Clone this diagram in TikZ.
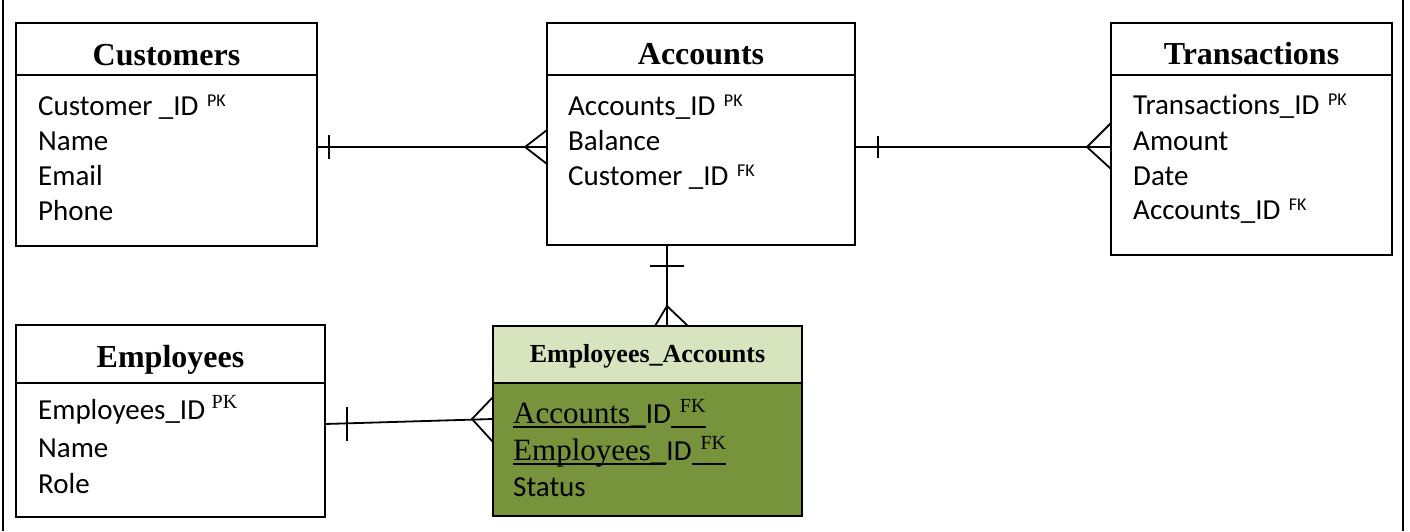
\documentclass[tikz,border=0pt]{standalone}
\usepackage{fontspec}
\setmainfont{Carlito}[Ligatures=NoCommon]
\newfontfamily\tms{Liberation Serif}
\definecolor{eahead}{HTML}{D7E4BD}
\definecolor{eabody}{HTML}{77933C}
\newcommand\myul[1]{\setbox0\hbox{#1}\rlap{\rule[-4.5pt]{\wd0}{1.4pt}}\box0}
\newcommand\supk[1]{\hspace{2pt}\raisebox{9pt}{\fontsize{18}{18}\selectfont #1}}
\newcommand\tsup[1]{\raisebox{11pt}{\tms\fontsize{20}{20}\selectfont #1}}
\begin{document}
\begin{tikzpicture}[x=1pt,y=-1pt,
  box/.style={draw, line width=1.8pt, anchor=north west, inner sep=0, outer sep=0},
  ttl/.style={anchor=base, inner sep=0, font=\tms\bfseries\fontsize{32}{32}\selectfont},
  row/.style={anchor=base west, inner sep=0, font=\fontsize{29}{34}\selectfont},
  conn/.style={line width=1.8pt},
  frame/.style={line width=2pt}
]
\useasboundingbox (0,0) rectangle (1410,531);
\draw[frame] (3,0) -- (3,531);
\draw[frame] (1403,0) -- (1403,531);

% Customers
\node[box, minimum width=301, minimum height=52] (custH) at (16,23) {};
\node[box, minimum width=301, minimum height=171] (cust) at (16,75) {};
\node[ttl] (custT) at (166.5,65) {Customers};
\node[row] (cust1) at (38,115) {Customer \_ID \supk{PK}};
\node[row] (cust2) at (38,150) {Name};
\node[row] (cust3) at (38,185) {Email};
\node[row] (cust4) at (38,220) {Phone};

% Accounts
\node[box, minimum width=308, minimum height=52] (accH) at (547,23) {};
\node[box, minimum width=308, minimum height=170] (acc) at (547,75) {};
\node[ttl] (accT) at (701,64) {Accounts};
\node[row] (acc1) at (568,115) {Accounts\_ID \supk{PK}};
\node[row] (acc2) at (568,150) {Balance};
\node[row] (acc3) at (568,185) {Customer \_ID \supk{FK}};

% Transactions
\node[box, minimum width=281, minimum height=52] (trH) at (1111,23) {};
\node[box, minimum width=281, minimum height=180] (tr) at (1111,75) {};
\node[ttl] (trT) at (1251.5,64) {Transactions};
\node[row] (tr1) at (1133,114) {Transactions\_ID \supk{PK}};
\node[row] (tr2) at (1133,150) {Amount};
\node[row] (tr3) at (1133,185) {Date};
\node[row] (tr4) at (1133,219) {Accounts\_ID \supk{FK}};

% Employees
\node[box, minimum width=309, minimum height=58] (empH) at (16,325) {};
\node[box, minimum width=309, minimum height=134] (emp) at (16,383) {};
\node[ttl] (empT) at (170.5,367) {Employees};
\node[row] (emp1) at (38,419) {Employees\_ID \tsup{PK}};
\node[row] (emp2) at (38,457) {Name};
\node[row] (emp3) at (38,493) {Role};

% Employees_Accounts
\node[box, fill=eahead, minimum width=309, minimum height=57] (eaH) at (493,326) {};
\node[box, fill=eabody, minimum width=309, minimum height=133] (ea) at (493,383) {};
\node[ttl, font=\tms\bfseries\fontsize{26}{26}\selectfont] (eaT) at (647.5,362) {Employees\_Accounts};
\node[row] (ea1) at (513,423) {\myul{\tms\fontsize{31}{31}\selectfont Accounts\_}ID\myul{\hspace{9pt}\tsup{FK}}};
\node[row] (ea2) at (513,460) {\myul{\tms\fontsize{31}{31}\selectfont Employees\_}ID\myul{\hspace{9pt}\tsup{FK}}};
\node[row] (ea3) at (513,496) {Status};

% Customers -- Accounts
\coordinate (ca1) at ([yshift=13.5pt]cust.east);
\coordinate (ca2) at ([yshift=13pt]acc.west);
\draw[conn] (ca1) -- (ca2);
\draw[conn] ([xshift=12pt,yshift=12pt]ca1) -- ([xshift=12pt,yshift=-12pt]ca1);
\draw[conn] ([yshift=17pt]ca2) -- ([xshift=-22pt]ca2) -- ([yshift=-17pt]ca2);

% Accounts -- Transactions
\coordinate (at1) at ([yshift=13pt]acc.east);
\coordinate (at2) at ([yshift=18pt]tr.west);
\draw[conn] (at1) -- (at2);
\draw[conn] ([xshift=23pt,yshift=11pt]at1) -- ([xshift=23pt,yshift=-11pt]at1);
\draw[conn] ([yshift=24pt]at2) -- ([xshift=-24pt]at2) -- ([yshift=-22pt]at2);

% Accounts -- Employees_Accounts
\coordinate (ae1) at ([xshift=-34pt]acc.south);
\coordinate (ae2) at ([xshift=19.5pt]eaH.north);
\draw[conn] (ae1) -- (ae2);
\draw[conn] ([xshift=-17pt,yshift=-21pt]ae1) -- ([xshift=17pt,yshift=-21pt]ae1);
\draw[conn] ([xshift=-12pt]ae2) -- ([yshift=20pt]ae2) -- ([xshift=21pt]ae2);

% Employees -- Employees_Accounts
\coordinate (ee1) at ([yshift=26pt]emp.east);
\coordinate (ee2) at ([yshift=30.5pt]ea.west);
\draw[conn] (ee1) -- (ee2);
\draw[conn] ([xshift=22pt,yshift=17pt]ee1) -- ([xshift=22pt,yshift=-17pt]ee1);
\draw[conn] ([yshift=22pt]ee2) -- ([xshift=-21pt]ee2) -- ([yshift=-23pt]ee2);
\end{tikzpicture}
\end{document}
